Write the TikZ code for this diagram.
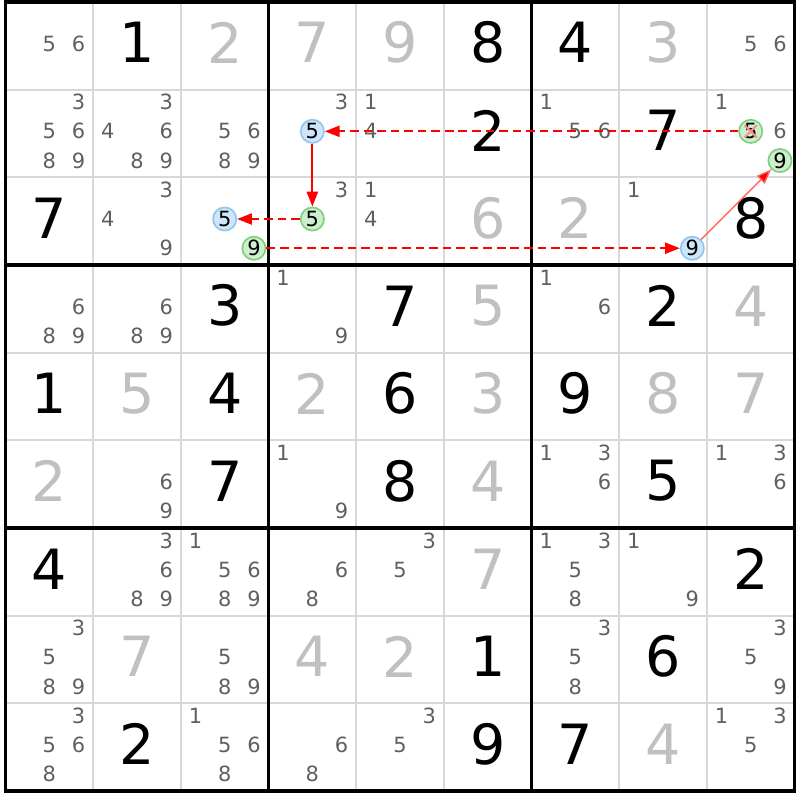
\documentclass[tikz,border=0pt]{standalone}
\usepackage{fontspec}
\setmainfont{DejaVu Sans}
\usetikzlibrary{arrows.meta}

\definecolor{candgray}{HTML}{606060}
\definecolor{solvedgray}{HTML}{C0C0C0}
\definecolor{gridgray}{HTML}{D8D8D8}
\definecolor{onfill}{HTML}{CFE6FA}
\definecolor{ondraw}{HTML}{90C8F0}
\definecolor{offfill}{HTML}{CDEFCD}
\definecolor{offdraw}{HTML}{80D080}
\definecolor{linkred}{HTML}{FF0000}

\tikzset{
  given/.style={font=\fontsize{18}{18}\selectfont, text=black, inner sep=0pt, yshift=1pt},
  solved/.style={given, text=solvedgray},
  cand/.style={font=\fontsize{6.8}{6.8}\selectfont, text=candgray, inner sep=0pt},
  candon/.style={cand, text=black, circle, draw=ondraw, fill=onfill, line width=0.55pt, minimum size=0.265cm},
  candoff/.style={candon, draw=offdraw, fill=offfill},
  strong/.style={draw=linkred, line width=0.65pt, -{Triangle[length=4.8pt,width=3.6pt]}},
  weak/.style={strong, dash pattern=on 2.8pt off 1.6pt},
  faint/.style={draw=linkred!60, line width=0.45pt, -{Triangle[length=4.8pt,width=3.6pt,fill=linkred]}},
  elim/.style={draw=linkred!45, line width=0.65pt}
}

% big digits: row, column, digit
\newcommand{\giv}[3]{\node[given] (v#1#2) at (#2-0.5,-#1+0.5) {#3};}
\newcommand{\sol}[3]{\node[solved] (v#1#2) at (#2-0.5,-#1+0.5) {#3};}
% pencil marks: row, column, list of digits
\newcommand{\cands}[3]{%
  \foreach \dg in {#3}{%
    \pgfmathsetmacro{\candx}{#2-0.5+(mod(\dg-1,3)-1)/3}%
    \pgfmathsetmacro{\candy}{-(#1-0.5)-(floor((\dg-1)/3)-1)/3+0.025}%
    \node[cand] (r#1c#2n\dg) at (\candx,\candy) {\dg};}}
% circled pencil mark: style, row, column, digit
\newcommand{\candmark}[4]{%
  \pgfmathsetmacro{\candx}{#3-0.5+(mod(#4-1,3)-1)/3}%
  \pgfmathsetmacro{\candy}{-(#2-0.5)-(floor((#4-1)/3)-1)/3+0.025}%
  \node[#1] (r#2c#3n#4) at (\candx,\candy) {#4};}

\begin{document}
\begin{tikzpicture}
\fill[white] (-0.063,0.023) rectangle (9.062,-9.102);
\useasboundingbox (-0.063,0.023) rectangle (9.062,-9.102);

% grid
\foreach \i in {1,...,8} {
  \draw[gridgray, line width=0.6pt] (\i,0) -- (\i,-9);
  \draw[gridgray, line width=0.6pt] (0,-\i) -- (9,-\i);
}
\foreach \i in {3,6} {
  \draw[line width=1.1pt] (\i,0) -- (\i,-9);
  \draw[line width=1.1pt] (0,-\i) -- (9,-\i);
}
\draw[line width=1.1pt] (0,0) rectangle (9,-9);

% givens
\giv{1}{2}{1} \giv{1}{6}{8} \giv{1}{7}{4}
\giv{2}{6}{2} \giv{2}{8}{7}
\giv{3}{1}{7} \giv{3}{9}{8}
\giv{4}{3}{3} \giv{4}{5}{7} \giv{4}{8}{2}
\giv{5}{1}{1} \giv{5}{3}{4} \giv{5}{5}{6} \giv{5}{7}{9}
\giv{6}{3}{7} \giv{6}{5}{8} \giv{6}{8}{5}
\giv{7}{1}{4} \giv{7}{9}{2}
\giv{8}{6}{1} \giv{8}{8}{6}
\giv{9}{2}{2} \giv{9}{6}{9} \giv{9}{7}{7}

% solved
\sol{1}{3}{2} \sol{1}{4}{7} \sol{1}{5}{9} \sol{1}{8}{3}
\sol{3}{6}{6} \sol{3}{7}{2}
\sol{4}{6}{5} \sol{4}{9}{4}
\sol{5}{2}{5} \sol{5}{4}{2} \sol{5}{6}{3} \sol{5}{8}{8} \sol{5}{9}{7}
\sol{6}{1}{2} \sol{6}{6}{4}
\sol{7}{6}{7}
\sol{8}{2}{7} \sol{8}{4}{4} \sol{8}{5}{2}
\sol{9}{8}{4}

% pencil marks
\cands{1}{1}{5,6} \cands{1}{9}{5,6}
\cands{2}{1}{3,5,6,8,9} \cands{2}{2}{3,4,6,8,9} \cands{2}{3}{5,6,8,9}
\cands{2}{4}{3} \cands{2}{5}{1,4} \cands{2}{7}{1,5,6} \cands{2}{9}{1,6}
\cands{3}{2}{3,4,9} \cands{3}{4}{3} \cands{3}{5}{1,4} \cands{3}{8}{1}
\cands{4}{1}{6,8,9} \cands{4}{2}{6,8,9} \cands{4}{4}{1,9} \cands{4}{7}{1,6}
\cands{6}{2}{6,9} \cands{6}{4}{1,9} \cands{6}{7}{1,3,6} \cands{6}{9}{1,3,6}
\cands{7}{2}{3,6,8,9} \cands{7}{3}{1,5,6,8,9} \cands{7}{4}{6,8} \cands{7}{5}{3,5}
\cands{7}{7}{1,3,5,8} \cands{7}{8}{1,9}
\cands{8}{1}{3,5,8,9} \cands{8}{3}{5,8,9} \cands{8}{7}{3,5,8} \cands{8}{9}{3,5,9}
\cands{9}{1}{3,5,6,8} \cands{9}{3}{1,5,6,8} \cands{9}{4}{6,8} \cands{9}{5}{3,5}
\cands{9}{9}{1,3,5}

% chain
\candmark{candon}{2}{4}{5}
\candmark{candoff}{3}{4}{5}
\candmark{candon}{3}{3}{5}
\candmark{candoff}{3}{3}{9}
\candmark{candon}{3}{8}{9}
\candmark{candoff}{2}{9}{5}
\candmark{candoff}{2}{9}{9}

\draw[weak] (r2c9n5) -- (r2c4n5);
\draw[strong] (r2c4n5) -- (r3c4n5);
\draw[weak] (r3c4n5) -- (r3c3n5);
\draw[weak] (r3c3n9) -- (r3c8n9);
\draw[faint] (r3c8n9) -- (r2c9n9);

\draw[elim] ([shift={(-0.07,-0.07)}]r2c9n5.center) -- ([shift={(0.07,0.07)}]r2c9n5.center);
\draw[elim] ([shift={(-0.07,0.07)}]r2c9n5.center) -- ([shift={(0.07,-0.07)}]r2c9n5.center);
\end{tikzpicture}
\end{document}
